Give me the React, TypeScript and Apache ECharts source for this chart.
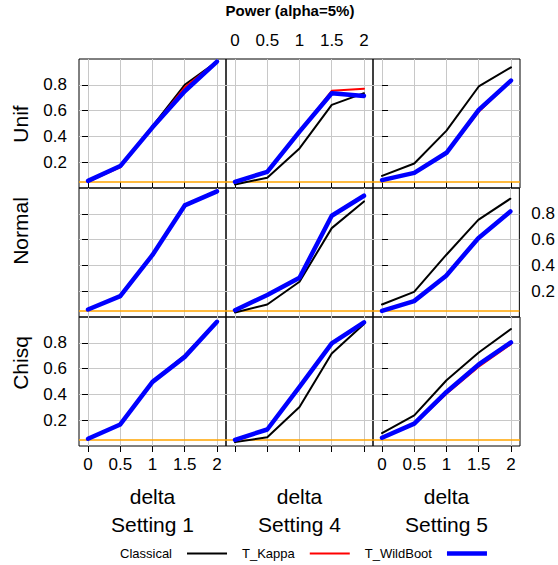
import React, { useEffect, useRef } from 'react';
import * as echarts from 'echarts';

const deltas = [0, 0.5, 1, 1.5, 2];
const settings = ['Setting 1', 'Setting 4', 'Setting 5'];
const distributions = ['Unif', 'Normal', 'Chisq'];
const methods = ['Classical', 'T_Kappa', 'T_WildBoot'];
const xTicks = [0, 0.5, 1, 1.5, 2];
const yTicks = [0.2, 0.4, 0.6, 0.8];
const alphaLevel = 0.05;

// Unif
const unifS1Classical = [0.05, 0.17, 0.48, 0.8, 0.98];
const unifS1Kappa = [0.05, 0.16, 0.47, 0.78, 0.98];
const unifS1Wild = [0.055, 0.17, 0.47, 0.75, 0.98];
const unifS4Classical = [0.027, 0.08, 0.307, 0.644, 0.735];
const unifS4Kappa = [0.048, 0.125, 0.437, 0.753, 0.769];
const unifS4Wild = [0.048, 0.125, 0.437, 0.735, 0.714];
const unifS5Classical = [0.094, 0.19, 0.445, 0.787, 0.935];
const unifS5Kappa = [0.06, 0.115, 0.27, 0.59, 0.83];
const unifS5Wild = [0.061, 0.117, 0.273, 0.605, 0.833];
// Normal
const normalS1Classical = [0.058, 0.165, 0.483, 0.868, 0.975];
const normalS1Kappa = [0.058, 0.162, 0.481, 0.865, 0.974];
const normalS1Wild = [0.058, 0.162, 0.481, 0.865, 0.974];
const normalS4Classical = [0.035, 0.097, 0.273, 0.689, 0.896];
const normalS4Kappa = [0.053, 0.17, 0.304, 0.785, 0.94];
const normalS4Wild = [0.053, 0.17, 0.304, 0.785, 0.94];
const normalS5Classical = [0.097, 0.195, 0.481, 0.753, 0.917];
const normalS5Kappa = [0.047, 0.12, 0.315, 0.605, 0.812];
const normalS5Wild = [0.047, 0.123, 0.32, 0.611, 0.818];
// Chisq
const chisqS1Classical = [0.056, 0.167, 0.497, 0.704, 0.963];
const chisqS1Kappa = [0.056, 0.165, 0.495, 0.69, 0.963];
const chisqS1Wild = [0.056, 0.167, 0.497, 0.691, 0.963];
const chisqS4Classical = [0.03, 0.068, 0.302, 0.717, 0.946];
const chisqS4Kappa = [0.048, 0.128, 0.458, 0.795, 0.959];
const chisqS4Wild = [0.048, 0.128, 0.458, 0.795, 0.959];
const chisqS5Classical = [0.1, 0.237, 0.51, 0.725, 0.907];
const chisqS5Kappa = [0.064, 0.17, 0.405, 0.615, 0.79];
const chisqS5Wild = [0.064, 0.173, 0.419, 0.632, 0.803];

const panels = [
  [
    [unifS1Classical, unifS1Kappa, unifS1Wild],
    [unifS4Classical, unifS4Kappa, unifS4Wild],
    [unifS5Classical, unifS5Kappa, unifS5Wild],
  ],
  [
    [normalS1Classical, normalS1Kappa, normalS1Wild],
    [normalS4Classical, normalS4Kappa, normalS4Wild],
    [normalS5Classical, normalS5Kappa, normalS5Wild],
  ],
  [
    [chisqS1Classical, chisqS1Kappa, chisqS1Wild],
    [chisqS4Classical, chisqS4Kappa, chisqS4Wild],
    [chisqS5Classical, chisqS5Kappa, chisqS5Wild],
  ],
];

const methodColors = ['#000000', '#ff0000', '#0000ff'];
const methodWidths = [2, 2, 4.5];

const FONT = '"Liberation Sans", Arial, Helvetica, sans-serif';
const PANEL_LEFT = 79;
const PANEL_TOP = 59;
const PANEL_W = 147;
const PANEL_H = 129;

function buildOption() {
  const grid: any[] = [];
  const xAxis: any[] = [];
  const yAxis: any[] = [];
  const series: any[] = [];
  for (let r = 0; r < 3; r++) {
    for (let c = 0; c < 3; c++) {
      const idx = r * 3 + c;
      grid.push({
        left: PANEL_LEFT + PANEL_W * c,
        top: PANEL_TOP + PANEL_H * r,
        width: PANEL_W,
        height: PANEL_H,
        show: true,
        borderColor: '#000',
        borderWidth: 1,
        backgroundColor: 'transparent',
        containLabel: false,
      });
      const showXTick = r === 0 || r === 2;
      const showXLabel = (r === 0 && c === 1) || (r === 2 && c !== 1);
      xAxis.push({
        gridIndex: idx,
        type: 'value',
        min: -0.14,
        max: 2.14,
        splitNumber: 5,
        position: r === 0 ? 'top' : 'bottom',
        axisLine: { show: false },
        axisTick: {
          show: showXTick,
          customValues: xTicks,
          length: 6,
          lineStyle: { color: '#000', width: 1 },
        },
        axisLabel: {
          show: showXLabel,
          customValues: xTicks,
          fontSize: 17,
          fontFamily: FONT,
          color: '#000',
          margin: 10,
        },
        splitLine: { show: true, lineStyle: { color: '#c8c8c8', width: 1 } },
      });
      const showYTick = c === 0 || c === 2;
      const showYLabel = (c === 0 && r !== 1) || (c === 2 && r === 1);
      yAxis.push({
        gridIndex: idx,
        type: 'value',
        min: 0,
        max: 1,
        interval: 0.1,
        position: c === 2 ? 'right' : 'left',
        axisLine: { show: false },
        axisTick: {
          show: showYTick,
          customValues: yTicks,
          length: 6,
          lineStyle: { color: '#000', width: 1 },
        },
        axisLabel: {
          show: showYLabel,
          customValues: yTicks,
          fontSize: 17,
          fontFamily: FONT,
          color: '#000',
          margin: 12,
        },
        splitLine: { show: true, lineStyle: { color: '#c8c8c8', width: 1 } },
      });
      series.push({
        type: 'line',
        xAxisIndex: idx,
        yAxisIndex: idx,
        data: [],
        silent: true,
        z: 1,
        markLine: {
          silent: true,
          symbol: 'none',
          z: 1,
          label: { show: false },
          lineStyle: { color: '#ffa500', width: 1.5, type: 'solid' },
          data: [{ yAxis: alphaLevel }],
        },
      });
      methods.forEach((m, k) => {
        const vals = panels[r][c][k];
        series.push({
          type: 'line',
          name: m,
          xAxisIndex: idx,
          yAxisIndex: idx,
          data: deltas.map((d, i) => [d, vals[i]]),
          showSymbol: false,
          symbol: 'none',
          silent: true,
          z: 3 + k,
          color: methodColors[k],
          itemStyle: { color: methodColors[k] },
          lineStyle: {
            color: methodColors[k],
            width: methodWidths[k],
            cap: 'round',
            join: 'round',
          },
        });
      });
    }
  }

  const graphic: any[] = [];
  graphic.push({
    type: 'text',
    x: 290,
    y: 10,
    style: {
      text: 'Power (alpha=5%)',
      fill: '#000',
      font: `bold 15px ${FONT}`,
      align: 'center',
      verticalAlign: 'middle',
    },
  });
  const rowCenters = [124, 231, 363];
  distributions.forEach((d, r) => {
    graphic.push({
      type: 'text',
      x: 20,
      y: rowCenters[r],
      rotation: Math.PI / 2,
      style: {
        text: d,
        fill: '#000',
        font: `21px ${FONT}`,
        align: 'center',
        verticalAlign: 'middle',
      },
    });
  });
  settings.forEach((s, c) => {
    const cx = PANEL_LEFT + PANEL_W * c + PANEL_W / 2;
    graphic.push({
      type: 'text',
      x: cx,
      y: 496,
      style: { text: 'delta', fill: '#000', font: `21px ${FONT}`, align: 'center', verticalAlign: 'middle' },
    });
    graphic.push({
      type: 'text',
      x: cx,
      y: 524,
      style: { text: s, fill: '#000', font: `21px ${FONT}`, align: 'center', verticalAlign: 'middle' },
    });
  });

  const legendHeights = [2, 2, 4.5];
  return {
    animation: false,
    backgroundColor: '#ffffff',
    grid,
    xAxis,
    yAxis,
    series,
    graphic,
    legend: {
      left: 115,
      top: 542,
      align: 'right',
      itemWidth: 40,
      itemHeight: 14,
      itemGap: 15,
      selectedMode: false,
      textStyle: { fontSize: 13, fontFamily: FONT, color: '#000', padding: [0, 10, 0, 0] },
      data: methods.map((m, k) => ({
        name: m,
        icon: `path://M0 0H40V${legendHeights[k]}H0Z`,
        itemStyle: { color: methodColors[k], borderWidth: 0 },
      })),
    },
  };
}

export default function App() {
  const ref = useRef<HTMLDivElement>(null);
  useEffect(() => {
    if (!ref.current) return;
    const chart = echarts.init(ref.current, null, { renderer: 'svg' });
    chart.setOption(buildOption() as any);
    return () => chart.dispose();
  }, []);
  return (
    <div
      ref={ref}
      style={{ position: 'absolute', left: 0, top: 0, width: 558, height: 565, background: '#fff' }}
    />
  );
}
